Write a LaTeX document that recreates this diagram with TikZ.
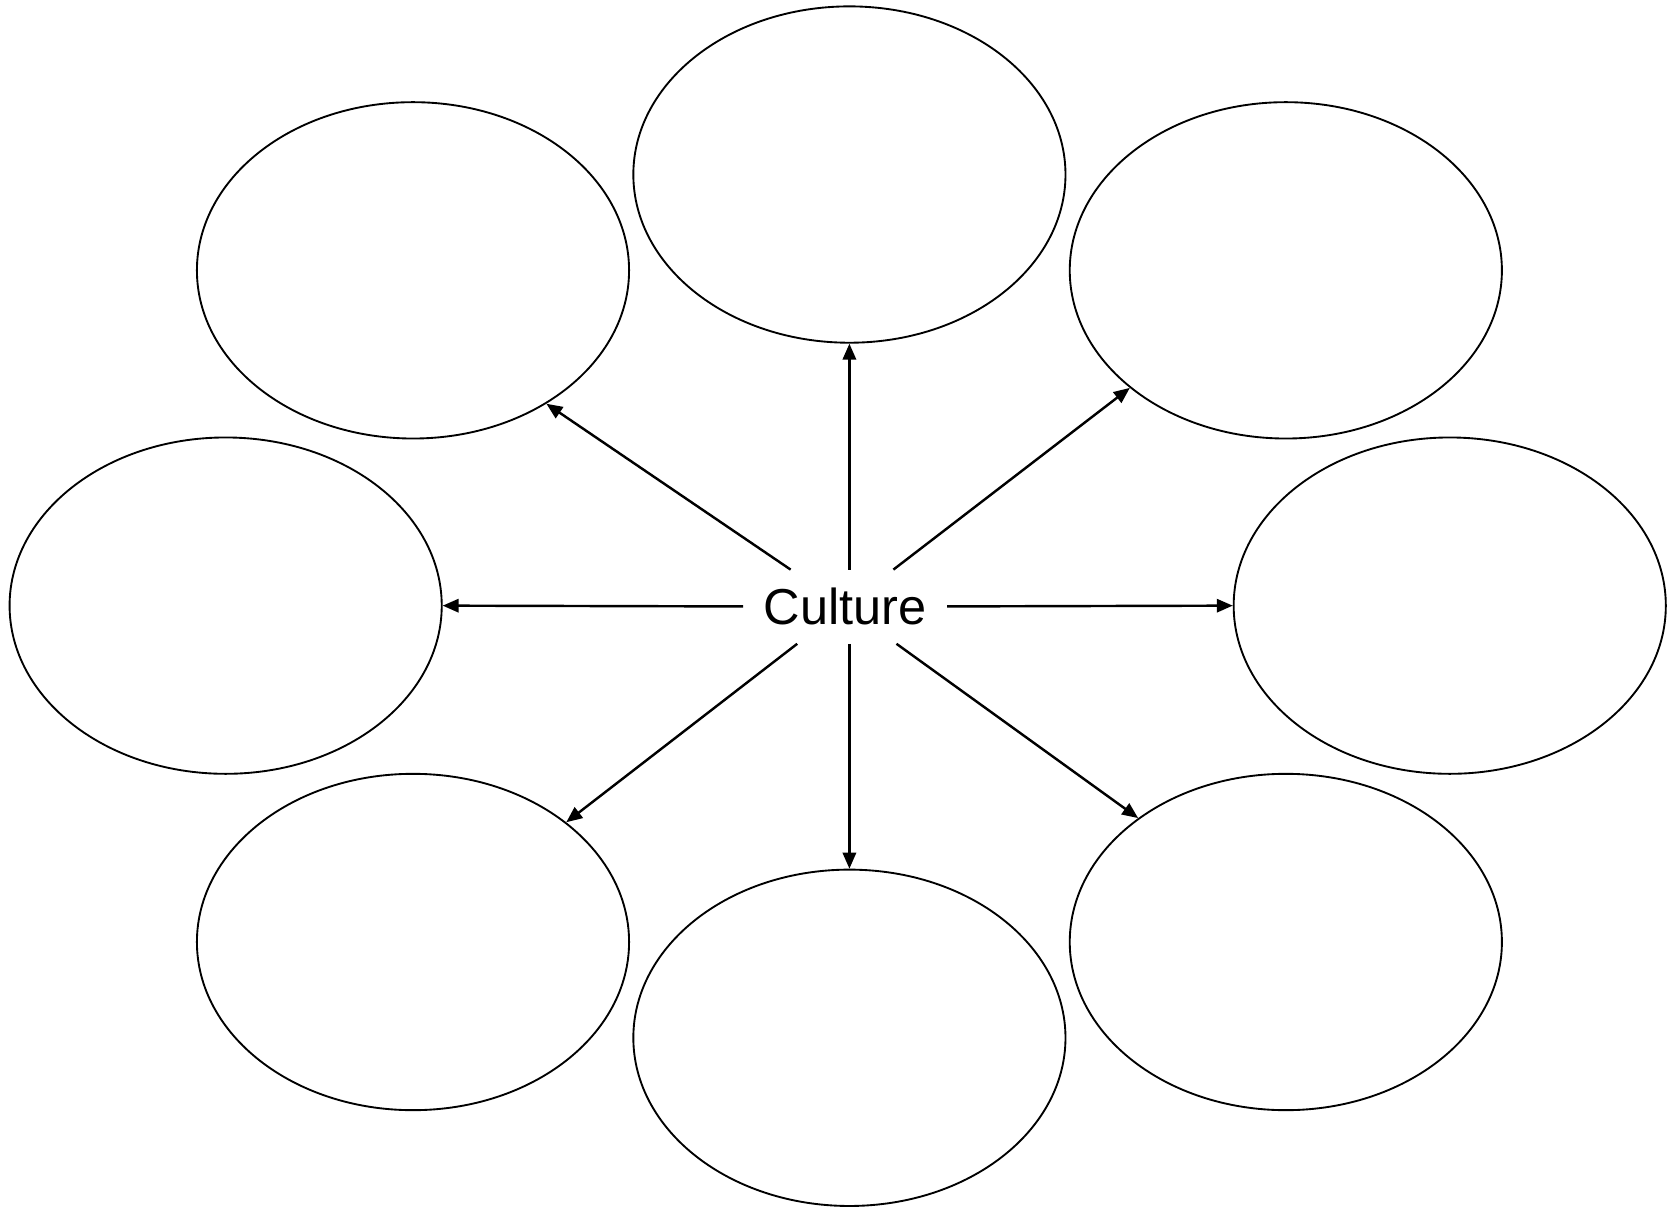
\documentclass[tikz,border=0pt]{standalone}
\usepackage{fontspec}
\setmainfont{Liberation Sans}
\usetikzlibrary{shapes.geometric, arrows.meta}

\begin{document}
\begin{tikzpicture}[
    bubble/.style={ellipse, draw, line width=1pt, minimum width=8.12cm, minimum height=6.32cm, inner sep=0pt},
    hub/.style={rectangle, minimum width=3.82cm, minimum height=1.38cm, inner sep=0pt, font=\fontsize{27}{30}\selectfont},
    arrow/.style={-{Triangle[length=0.3cm, width=0.25cm]}, line width=1.3pt}
]
\useasboundingbox (0,0) rectangle (31.36,22.72);

\node[hub] (culture) at (15.88, 11.32) {Culture};

\node[bubble] (top) at (15.96, 19.44) {};
\node[bubble] (topleft) at (7.76, 17.64) {};
\node[bubble] (topright) at (24.16, 17.64) {};
\node[bubble] (left) at (4.24, 11.34) {};
\node[bubble] (right) at (27.24, 11.34) {};
\node[bubble] (botleft) at (7.76, 5.02) {};
\node[bubble] (bottom) at (15.96, 3.22) {};
\node[bubble] (botright) at (24.16, 5.02) {};

\draw[arrow] (culture) -- (topleft.-45);
\draw[arrow] (culture.north -| top.south) -- (top.south);
\draw[arrow] (culture) -- (topright.217);
\draw[arrow] (culture) -- (left.east);
\draw[arrow] (culture) -- (right.west);
\draw[arrow] (culture) -- (botleft.38);
\draw[arrow] (culture.south -| bottom.north) -- (bottom.north);
\draw[arrow] (culture) -- (botright.140);
\end{tikzpicture}
\end{document}
